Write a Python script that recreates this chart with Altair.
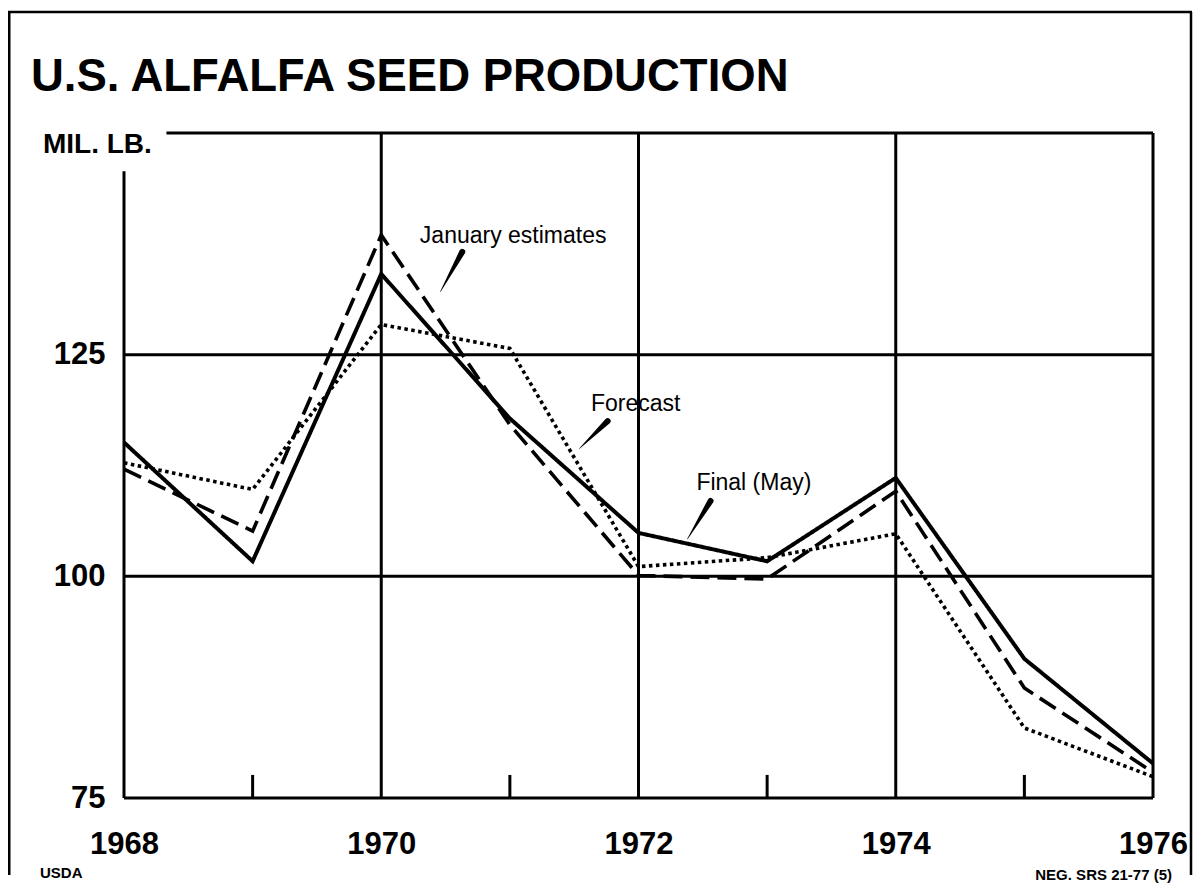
import altair as alt
import pandas as pd

# ---- data ----
years = [1968, 1969, 1970, 1971, 1972, 1973, 1974, 1975, 1976]
final_may = [115.1, 101.7, 134.1, 117.8, 104.9, 101.7, 111.1, 90.7, 78.9]
january = [112.1, 105.1, 138.5, 117.1, 100.1, 99.7, 109.6, 87.4, 77.9]
forecast = [112.8, 109.8, 128.4, 125.7, 101.1, 102.1, 104.8, 82.9, 77.4]

x_tick_labels = [1968, 1970, 1972, 1974, 1976]
y_tick_labels = [75, 100, 125]
minor_years = [1969, 1971, 1973, 1975]

title_text = "U.S. ALFALFA SEED PRODUCTION"
unit_text = "MIL. LB."
label_texts = ["January estimates", "Forecast", "Final (May)"]
label_x = [1970.30, 1971.63, 1972.45]
label_y = [138.4, 119.4, 110.5]
# pointer wedges: (start -> tip) in data units
ptr_x0 = [1970.63, 1971.76, 1972.56]
ptr_y0 = [136.6, 117.5, 108.5]
ptr_x1 = [1970.46, 1971.54, 1972.38]
ptr_y1 = [132.1, 114.4, 104.2]

W, H = 1029, 665
FONT = "Liberation Sans"

series = pd.DataFrame({
    "year": years * 3,
    "value": final_may + january + forecast,
    "series": ["Final (May)"] * 9 + ["January estimates"] * 9 + ["Forecast"] * 9,
})

xs = alt.Scale(domain=[1968, 1976], nice=False, zero=False)
ys = alt.Scale(domain=[75, 150], nice=False, zero=False)
xaxis = alt.Axis(values=x_tick_labels, format="d", labelFontSize=31, labelFont=FONT,
                 labelFontWeight="bold", labelColor="black", labelPadding=31,
                 labelFlush=False, labelOverlap=False, domain=False, ticks=False,
                 grid=False, title=None)
yaxis = alt.Axis(values=y_tick_labels, labelFontSize=31, labelFont=FONT,
                 labelFontWeight="bold", labelColor="black", labelPadding=19,
                 labelBaseline="middle", labelOverlap=False, domain=False, ticks=False,
                 grid=False, title=None)

def X(f):
    return alt.X(f, type="quantitative", scale=xs, axis=xaxis)

def Y(f):
    return alt.Y(f, type="quantitative", scale=ys, axis=yaxis)

# grid / axis rules
v_x = [1968, 1970, 1972, 1974, 1976]
v_top = [145.7, 150, 150, 150, 150]
h_y = [75, 100, 125, 150]
h_x0 = [1968, 1968, 1968, 1968.33]
rules = pd.DataFrame({
    "x": v_x + h_x0 + minor_years,
    "x2": v_x + [1976] * 4 + minor_years,
    "y": [75] * 5 + h_y + [75] * 4,
    "y2": v_top + h_y + [77.6] * 4,
})
grid = alt.Chart(rules).mark_rule(color="black", strokeWidth=3).encode(
    x=X("x"), x2="x2", y=Y("y"), y2="y2")

def line(name, dash, width):
    return alt.Chart(series).transform_filter(alt.datum.series == name).mark_line(
        color="black", strokeWidth=width, strokeDash=dash, strokeCap="butt",
        strokeJoin="miter").encode(x=X("year"), y=Y("value"))

l_final = line("Final (May)", [1, 0], 4)
l_jan = line("January estimates", [19, 8], 3.6)
l_fc = line("Forecast", [3.5, 3.5], 3.6)

labels = pd.DataFrame({"t": label_texts, "x": label_x, "y": label_y})
txt = alt.Chart(labels).mark_text(align="left", baseline="middle", fontSize=23,
                                  font=FONT, color="black").encode(
    x=X("x"), y=Y("y"), text="t:N")

ptr = pd.DataFrame({
    "id": [0, 0, 1, 1, 2, 2],
    "k": [0, 1] * 3,
    "x": [v for pair in zip(ptr_x0, ptr_x1) for v in pair],
    "y": [v for pair in zip(ptr_y0, ptr_y1) for v in pair],
    "w": [6, 0.5] * 3,
})
pointers = alt.Chart(ptr).mark_trail(color="black").encode(
    x=X("x"), y=Y("y"), size=alt.Size("w:Q", scale=None, legend=None),
    detail="id:N", order="k:Q")

dummy = pd.DataFrame({"a": [0]})
title = alt.Chart(dummy).mark_text(align="left", baseline="alphabetic", fontSize=45.5,
                                   fontWeight="bold", font=FONT, color="black").encode(
    x=alt.value(-93), y=alt.value(-42), text=alt.value(title_text))
unit = alt.Chart(dummy).mark_text(align="left", baseline="alphabetic", fontSize=28,
                                  fontWeight="bold", font=FONT, color="black").encode(
    x=alt.value(-81), y=alt.value(20), text=alt.value(unit_text))
usda = alt.Chart(dummy).mark_text(align="left", baseline="alphabetic", fontSize=15,
                                  fontWeight="bold", font=FONT, color="black").encode(
    x=alt.value(-84), y=alt.value(745), text=alt.value("USDA"))
neg = alt.Chart(dummy).mark_text(align="right", baseline="alphabetic", fontSize=15,
                                 fontWeight="bold", font=FONT, color="black").encode(
    x=alt.value(1048), y=alt.value(747), text=alt.value("NEG.  SRS 21-77 (5)"))

frame_left = alt.Chart(dummy).mark_rule(color="black", strokeWidth=3).encode(
    x=alt.value(-115), y=alt.value(-121), y2=alt.value(742))
frame_top = alt.Chart(dummy).mark_rule(color="black", strokeWidth=2.5).encode(
    x=alt.value(-116), x2=alt.value(1068), y=alt.value(-121))
frame_right = alt.Chart(dummy).mark_rule(color="black", strokeWidth=2.5).encode(
    x=alt.value(1067), y=alt.value(-121), y2=alt.value(742))

chart = alt.layer(
    grid, l_fc, l_jan, l_final, txt, pointers, title, unit, usda, neg,
    frame_left, frame_top, frame_right,
).properties(
    width=W, height=H,
    autosize=alt.AutoSizeParams(type="none"),
    padding={"left": 116, "top": 125, "right": 40, "bottom": 85},
    background="white",
).configure_view(stroke=None)

chart.save("out.html", embed_options={"renderer": "svg", "actions": False})
